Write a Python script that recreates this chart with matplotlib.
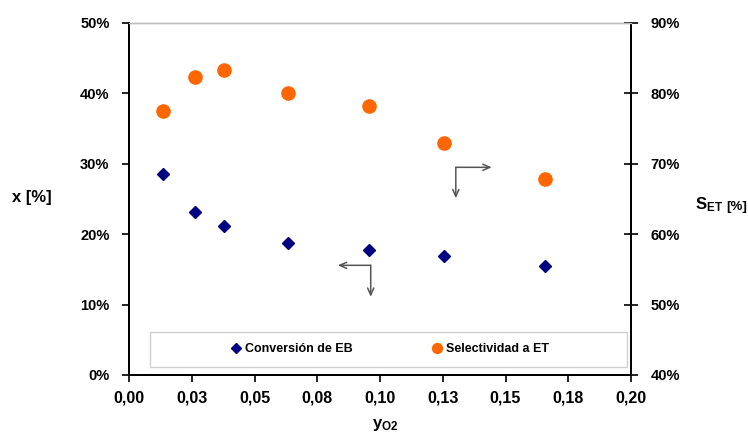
import matplotlib
matplotlib.use("Agg")
import matplotlib.pyplot as plt
from matplotlib.patches import Rectangle
from matplotlib.ticker import FixedLocator

# data
y_o2 = [0.0134, 0.0263, 0.0377, 0.0635, 0.0956, 0.1256, 0.1657]
conversion_eb = [28.6, 23.1, 21.2, 18.7, 17.7, 16.95, 15.5]      # left axis, %
selectividad_et = [77.5, 82.3, 83.3, 80.0, 78.25, 73.0, 67.9]    # right axis, %

x_ticks = [0.0, 0.025, 0.05, 0.075, 0.10, 0.125, 0.15, 0.175, 0.20]
x_ticklabels = ["0,00", "0,03", "0,05", "0,08", "0,10", "0,13", "0,15", "0,18", "0,20"]
left_ticks = [0, 10, 20, 30, 40, 50]
right_ticks = [40, 50, 60, 70, 80, 90]

plt.rcParams["font.family"] = ["Liberation Sans", "DejaVu Sans"]
plt.rcParams["font.weight"] = "bold"
plt.rcParams["axes.labelweight"] = "bold"
plt.rcParams["mathtext.fontset"] = "custom"
plt.rcParams["mathtext.rm"] = "Liberation Sans:bold"
plt.rcParams["mathtext.bf"] = "Liberation Sans:bold"
plt.rcParams["mathtext.it"] = "Liberation Sans:bold"


def main():
    fig = plt.figure(figsize=(7.48, 4.34), dpi=100)
    ax = fig.add_axes([129 / 748, 59 / 434, 502 / 748, 352 / 434])
    ax2 = ax.twinx()

    d, = ax.plot(y_o2, conversion_eb, "D", color="#000080", markersize=6.5,
                 linestyle="none", label="Conversión de EB", zorder=3)
    c, = ax2.plot(y_o2, selectividad_et, "o", color="#FF6600", markersize=9.5,
                  linestyle="none", label="Selectividad a ET", zorder=3)

    ax.set_xlim(0, 0.2)
    ax.set_ylim(0, 50)
    ax2.set_ylim(40, 90)

    ax.xaxis.set_major_locator(FixedLocator(x_ticks))
    ax.set_xticklabels(x_ticklabels)
    ax.set_yticks(left_ticks)
    ax.set_yticklabels([f"{v}%" for v in left_ticks])
    ax2.set_yticks(right_ticks)
    ax2.set_yticklabels([f"{v}%" for v in right_ticks])

    ax.tick_params(axis="x", direction="out", length=5, width=1.2, pad=6, labelsize=11.5)
    ax.tick_params(axis="y", direction="out", length=5, width=1.2, pad=9, labelsize=10.5)
    ax2.tick_params(axis="y", direction="inout", length=10, width=1.2, pad=9, labelsize=10.5)

    for a in (ax, ax2):
        for s in ("left", "right", "bottom"):
            a.spines[s].set_linewidth(1.3)
            a.spines[s].set_color("black")
        a.spines["top"].set_color("#bfbfbf")
        a.spines["top"].set_linewidth(1.0)

    ax.set_ylabel("x [%]", rotation=0, fontsize=12, fontweight="bold",
                  ha="center", va="center")
    ax.yaxis.set_label_coords(-0.193, 0.503)
    ax.set_xlabel(r"$\mathbf{y}_{\mathbf{O2}}$", fontsize=12, va="center")
    ax.xaxis.set_label_coords(0.51, -0.142)

    # right axis label: S_ET in larger type, [%] smaller
    fig.text(723 / 748, 1 - 205 / 434, r"$\mathbf{S}_{\mathbf{ET}}$", fontsize=12,
             ha="right", va="center")
    fig.text(726 / 748, 1 - 207 / 434, "[%]", fontsize=9.5, fontweight="bold",
             ha="left", va="center")

    # axis indicator arrows
    arrow = dict(arrowstyle="->,head_length=0.5,head_width=0.22", color="#555555", lw=1.1,
                 shrinkA=0, shrinkB=0)
    ax.annotate("", xy=(0.1445, 29.5), xytext=(0.1302, 29.5), arrowprops=arrow)
    ax.annotate("", xy=(0.1302, 25.1), xytext=(0.1302, 29.5), arrowprops=arrow)
    ax.annotate("", xy=(0.0832, 15.58), xytext=(0.0963, 15.58), arrowprops=arrow)
    ax.annotate("", xy=(0.0963, 11.1), xytext=(0.0963, 15.58), arrowprops=arrow)

    # legend box
    bx0, by0, bw, bh = 21 / 502, 8 / 352, 477 / 502, 35 / 352
    ax2.add_patch(Rectangle((bx0, by0), bw, bh, transform=ax2.transAxes,
                            facecolor="white", edgecolor="#d0d0d0", lw=1.0, zorder=4))
    leg = ax2.legend([d, c], ["Conversión de EB", "Selectividad a ET"], ncol=2,
                     loc="center", bbox_to_anchor=(bx0 + bw / 2 + 0.003, by0 + bh / 2),
                     bbox_transform=ax2.transAxes, frameon=False, fontsize=9,
                     handlelength=0.8, handletextpad=0.3, columnspacing=6.4,
                     markerscale=0.75)
    leg.set_zorder(5)

    fig.savefig("out.png", dpi=100)


if __name__ == "__main__":
    main()
